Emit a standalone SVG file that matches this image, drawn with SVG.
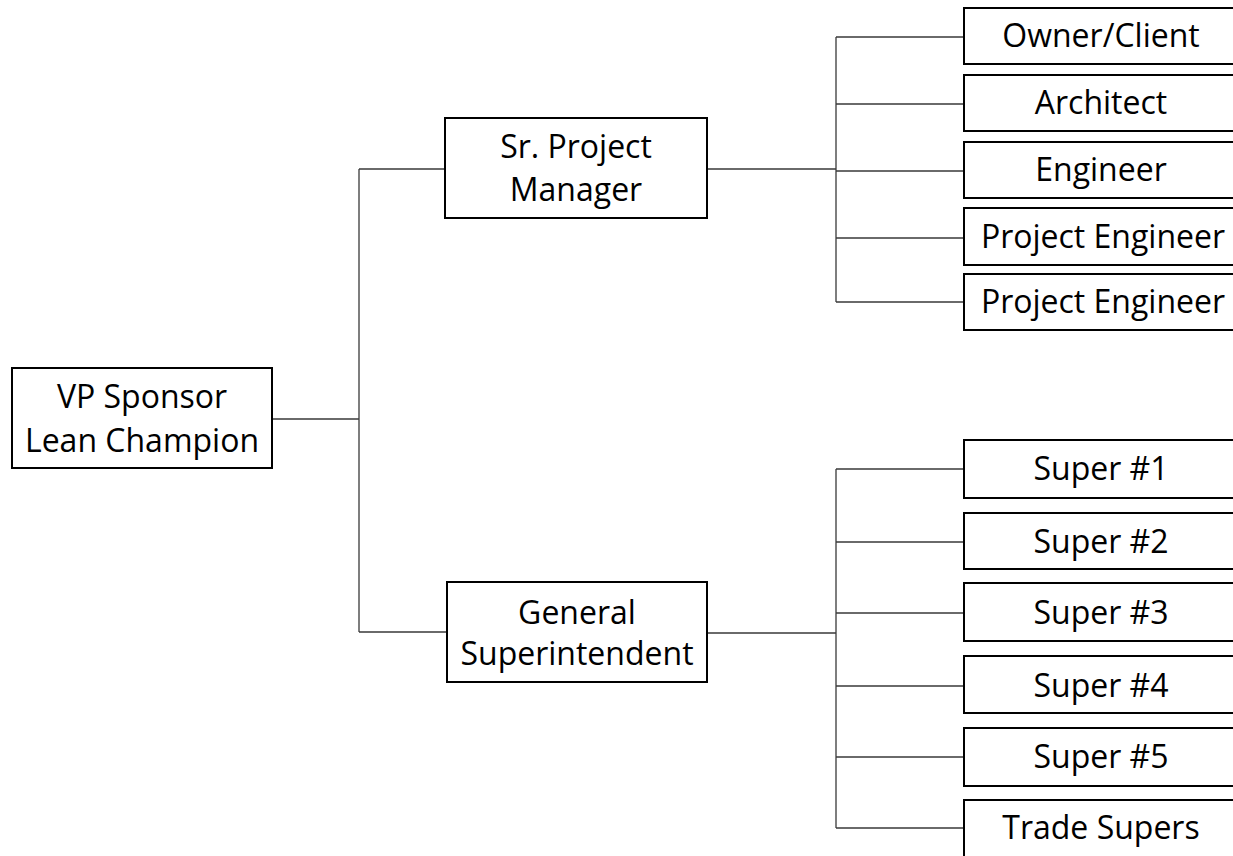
<svg xmlns="http://www.w3.org/2000/svg" width="1233" height="856" viewBox="0 0 1233 856">
  <style>
    .box { fill: #ffffff; stroke: #000000; stroke-width: 2; }
    .lbl { font-family: "Open Sans", "Liberation Sans", sans-serif; font-size: 32px; fill: #000000; text-anchor: middle; }
    .wire { fill: none; stroke: #3a3a3a; stroke-width: 1.3; }
  </style>
  <rect x="0" y="0" width="1233" height="856" fill="#ffffff"/>

  <!-- connectors -->
  <g id="connectors">
    <path class="wire" d="M272 419 H359 M359 169 V632 M359 169 H445 M359 632 H447"/>
    <path class="wire" d="M707 169 H836 M836 37 V302 M836 37 H964 M836 104 H964 M836 171 H964 M836 238 H964 M836 302 H964"/>
    <path class="wire" d="M707 633 H836 M836 469 V828 M836 469 H964 M836 542 H964 M836 613 H964 M836 686 H964 M836 757 H964 M836 828 H964"/>
  </g>

  <!-- top level -->
  <g id="vp-sponsor">
    <rect class="box" x="12" y="368" width="260" height="100"/>
    <text class="lbl" x="142" y="408">VP Sponsor</text>
    <text class="lbl" x="142" y="452">Lean Champion</text>
  </g>

  <!-- second level -->
  <g id="sr-project-manager">
    <rect class="box" x="445" y="118" width="262" height="100"/>
    <text class="lbl" x="576" y="158">Sr. Project</text>
    <text class="lbl" x="576" y="201">Manager</text>
  </g>
  <g id="general-superintendent">
    <rect class="box" x="447" y="582" width="260" height="100"/>
    <text class="lbl" x="577" y="624">General</text>
    <text class="lbl" x="577" y="665">Superintendent</text>
  </g>

  <!-- project team -->
  <g id="owner-client">
    <rect class="box" x="964" y="8" width="280" height="56"/>
    <text class="lbl" x="1101" y="47">Owner/Client</text>
  </g>
  <g id="architect">
    <rect class="box" x="964" y="75" width="280" height="56"/>
    <text class="lbl" x="1101" y="114">Architect</text>
  </g>
  <g id="engineer">
    <rect class="box" x="964" y="142" width="280" height="56"/>
    <text class="lbl" x="1101" y="181">Engineer</text>
  </g>
  <g id="project-engineer-1">
    <rect class="box" x="964" y="208" width="280" height="57"/>
    <text class="lbl" x="1103" y="248">Project Engineer</text>
  </g>
  <g id="project-engineer-2">
    <rect class="box" x="964" y="274" width="280" height="56"/>
    <text class="lbl" x="1103" y="313">Project Engineer</text>
  </g>

  <!-- field team -->
  <g id="super-1">
    <rect class="box" x="964" y="440" width="280" height="58"/>
    <text class="lbl" x="1101" y="480">Super #1</text>
  </g>
  <g id="super-2">
    <rect class="box" x="964" y="513" width="280" height="56"/>
    <text class="lbl" x="1101" y="553">Super #2</text>
  </g>
  <g id="super-3">
    <rect class="box" x="964" y="583" width="280" height="58"/>
    <text class="lbl" x="1101" y="624">Super #3</text>
  </g>
  <g id="super-4">
    <rect class="box" x="964" y="656" width="280" height="57"/>
    <text class="lbl" x="1101" y="697">Super #4</text>
  </g>
  <g id="super-5">
    <rect class="box" x="964" y="728" width="280" height="58"/>
    <text class="lbl" x="1101" y="768">Super #5</text>
  </g>
  <g id="trade-supers">
    <rect class="box" x="964" y="800" width="280" height="70"/>
    <text class="lbl" x="1101" y="839">Trade Supers</text>
  </g>
</svg>
